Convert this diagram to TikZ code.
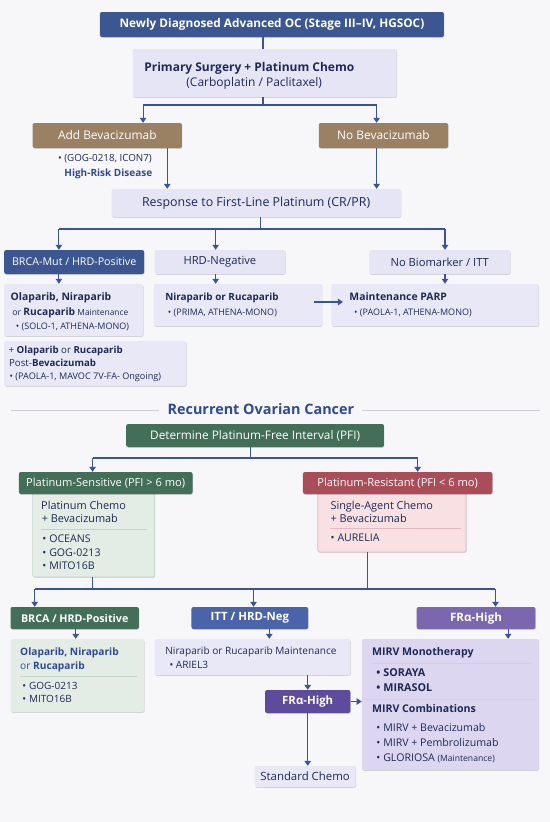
\documentclass[tikz,border=0pt]{standalone}
\usepackage{fontspec}
\setmainfont{Open Sans}
\usetikzlibrary{arrows.meta,shadows,calc}
\definecolor{bgc}{HTML}{F7F7FA}
\definecolor{navy}{HTML}{3B5690}
\definecolor{lc}{HTML}{3A5597}
\definecolor{lav}{HTML}{E5E5F6}
\definecolor{lavb}{HTML}{E9E8F7}
\definecolor{brown}{HTML}{9B8163}
\definecolor{grn}{HTML}{436E58}
\definecolor{redh}{HTML}{A94D58}
\definecolor{lgrn}{HTML}{E3EDE6}
\definecolor{lgrnb}{HTML}{C2D6C8}
\definecolor{pnk}{HTML}{F8E0E3}
\definecolor{pnkb}{HTML}{E8B7BF}
\definecolor{bitt}{HTML}{4B63A9}
\definecolor{pur}{HTML}{7A67AD}
\definecolor{purd}{HTML}{5E4B9B}
\definecolor{mirvc}{HTML}{DCD6F1}
\definecolor{tdark}{HTML}{1E2A55}
\definecolor{tblue}{HTML}{2F4A94}
\definecolor{gline}{HTML}{CFCFD8}
\newcommand{\fsz}[1]{\fontsize{#1}{#1}\selectfont}
\newcommand{\bul}{•\hspace{3pt}}
\newcommand{\bx}[7]{%
  \pgfmathsetmacro{\myBW}{(#4-#2)*1.052}\pgfmathsetmacro{\myBH}{#5-#3}%
  \pgfmathsetmacro{\myCX}{(#2+#4)/2}\pgfmathsetmacro{\myCY}{(#3+#5)/2}%
  \node[#6, minimum width=\myBW pt, minimum height=\myBH pt] (#1) at (\myCX,\myCY) {#7};}
\newcommand{\tx}[5]{\node[txt,#4] (#1) at (#2,{#3+3.7}) {#5};}
\tikzset{
  box/.style={rounded corners=2pt, inner sep=0pt, draw=none,
    drop shadow={shadow xshift=0.5pt, shadow yshift=-0.8pt, opacity=0.15, fill=black}},
  txt/.style={inner sep=0pt, anchor=base west, text=tdark},
  ln/.style={draw=lc, line width=1.1pt},
  arr/.style={ln, -{Triangle[width=6.5pt,length=5pt]}},
  sepl/.style={line width=0.6pt},
}
\begin{document}
\begin{tikzpicture}[x=1.052pt,y=-1pt]
\fill[bgc] (0,0) rectangle (522.81,822);
\useasboundingbox (0,0) rectangle (522.81,822);
% ---------- first line ----------
\bx{top}{95}{12}{422}{37}{box,fill=navy,text=white,font={\bfseries\fsz{11.8}}}{Newly Diagnosed Advanced OC (Stage III–IV, HGSOC)}
\bx{prim}{126}{49}{377}{97}{box,fill=lav}{}
\tx{tp1}{137}{68}{font={\bfseries\fsz{12}}}{Primary Surgery + Platinum Chemo}
\tx{tp2}{177}{83}{font={\fsz{12}}}{(Carboplatin / Paclitaxel)}
\bx{addbev}{31}{123}{173}{148}{box,fill=brown,text=white,font={\fsz{11.9}}}{Add Bevacizumab}
\bx{nobev}{303}{123}{426}{148}{box,fill=brown,text=white,font={\fsz{11.9}}}{No Bevacizumab}
\tx{tgog}{55}{158}{font={\fsz{9.8}}}{• (GOG-0218, ICON7)}
\tx{thr}{61}{173}{font={\bfseries\fsz{10}},text=tblue}{High-Risk Disease}
\bx{resp}{106}{189}{381}{217}{box,fill=lav,font={\fsz{12.4}},text=tdark}{Response to First-Line Platinum (CR/PR)}
\bx{brca}{4}{250}{137}{274}{box,fill=navy,text=white,font={\fsz{10.7}}}{BRCA-Mut / HRD-Positive}
\bx{hrdn}{147}{250}{271}{274}{box,fill=lav,text=tdark,font={\fsz{11.2}}}{HRD-Negative}
\bx{nobio}{351}{250}{485}{274}{box,fill=lav,text=tdark,font={\fsz{11.2}}}{No Biomarker / ITT}
\bx{olap}{4}{284}{136}{336}{box,fill=lavb}{}
\tx{to1}{10}{297}{font={\bfseries\fsz{10.4}}}{Olaparib, Niraparib}
\tx{to2}{11.5}{312}{font={\fsz{8.8}}}{or {\bfseries\fsz{10.2}Rucaparib} {\fsz{8.4}Maintenance}}
\tx{to3}{15}{326}{font={\fsz{9}}}{• (SOLO-1, ATHENA-MONO)}
\bx{nira}{146}{284}{306}{326}{box,fill=lavb}{}
\tx{tn1}{157}{297}{font={\bfseries\fsz{9.9}}}{Niraparib or Rucaparib}
\tx{tn2}{159.5}{312}{font={\fsz{9}}}{• (PRIMA, ATHENA-MONO)}
\bx{maint}{315}{284}{512}{326}{box,fill=lavb}{}
\tx{tm1}{332}{297}{font={\bfseries\fsz{10.4}}}{Maintenance PARP}
\tx{tm2}{336.5}{312}{font={\fsz{9}}}{• (PAOLA-1, ATHENA-MONO)}
\bx{olp}{4}{341}{177}{386}{box,fill=lavb}{}
\tx{tq1}{8}{350}{font={\fsz{9.7}}}{+ {\bfseries Olaparib} or {\bfseries Rucaparib}}
\tx{tq2}{8.5}{363}{font={\fsz{9.7}}}{Post-{\bfseries Bevacizumab}}
\tx{tq3}{9}{376}{font={\fsz{9.1}}}{• (PAOLA-1, MAVOC 7V-FA- Ongoing)}
% connectors first part
\coordinate (j1) at (250,105);
\coordinate (a1) at (136,105);
\coordinate (a2) at (358,105);
\draw[ln] (top.south -| j1) -- (prim.north -| j1);
\draw[ln] (prim.south -| j1) -- (j1);
\draw[ln] (a1) -- (a2);
\draw[arr] (a1) -- (a1 |- addbev.north);
\draw[arr] (a2) -- (a2 |- nobev.north);
\coordinate (c1) at (159,148);
\draw[arr] (addbev.south -| c1) -- (resp.north -| c1);
\draw[arr] (nobev.south -| a2) -- (resp.north -| a2);
\coordinate (j2) at (248,229);
\coordinate (k1) at (56,229);
\coordinate (k2) at (205,229);
\coordinate (k3) at (423,229);
\draw[ln] (resp.south -| j2) -- (j2);
\draw[ln] (k1) -- (k3);
\draw[arr] (k1) -- (k1 |- brca.north);
\draw[arr] (k2) -- (k2 |- hrdn.north);
\draw[arr] (k3) -- (k3 |- nobio.north);
\draw[arr] (brca.south -| k1) -- (olap.north -| k1);
\draw[arr] (hrdn.south -| k2) -- (nira.north -| k2);
\draw[arr] (nobio.south -| k3) -- (maint.north -| k3);
\coordinate (q1) at (298.5,302);
\coordinate (q2) at (326,302);
\draw[arr] (q1) -- (q2);
% ---------- recurrent ----------
\node[inner sep=0pt, text=tblue, font={\bfseries\fsz{14.4}}] (rtitle) at (248,409) {Recurrent Ovarian Cancer};
\coordinate (gl) at (10,410);
\coordinate (gr) at (513,410);
\draw[gline, line width=0.8pt] (gl) -- ([xshift=-8pt]rtitle.west |- gl);
\draw[gline, line width=0.8pt] ([xshift=8pt]rtitle.east |- gr) -- (gr);
\bx{pfi}{120}{424}{365}{447}{box,fill=grn,text=white,font={\fsz{11.8}}}{Determine Platinum-Free Interval (PFI)}
\bx{sb}{31}{490}{147}{577}{box,fill=lgrn,draw=lgrnb,line width=0.6pt}{}
\bx{rb}{302}{490}{443}{552}{box,fill=pnk,draw=pnkb,line width=0.6pt}{}
\bx{sh}{18}{472}{183}{494}{box,fill=grn,text=white,font={\fsz{11.1}}}{Platinum-Sensitive (PFI > 6 mo)}
\bx{rh}{288}{472}{468}{494}{box,fill=redh,text=white,font={\fsz{11.1}}}{Platinum-Resistant (PFI < 6 mo)}
\tx{ts1}{39}{506}{font={\fsz{10.9}}}{Platinum Chemo}
\tx{ts2}{39.5}{519}{font={\fsz{10.9}}}{+ Bevacizumab}
\draw[lgrnb, sepl] (39,529) -- (140,529);
\tx{ts3}{40}{539}{font={\fsz{10.6}}}{\bul OCEANS}
\tx{ts4}{40}{553}{font={\fsz{10.6}}}{\bul GOG-0213}
\tx{ts5}{40}{566}{font={\fsz{10.6}}}{\bul MITO16B}
\tx{tr1}{314}{506}{font={\fsz{10.9}}}{Single-Agent Chemo}
\tx{tr2}{314}{519}{font={\fsz{10.9}}}{+ Bevacizumab}
\draw[pnkb, sepl] (314,528) -- (438,528);
\tx{tr3}{314}{538}{font={\fsz{10.6}}}{\bul AURELIA}
% connectors recurrent
\coordinate (j3) at (238,458);
\coordinate (m1) at (88,458);
\coordinate (m2) at (397,458);
\draw[ln] (pfi.south -| j3) -- (j3);
\draw[ln] (m1) -- (m2);
\draw[arr] (m1) -- (m1 |- sh.north);
\draw[arr] (m2) -- (m2 |- rh.north);
\coordinate (h1) at (33,589);
\coordinate (h2) at (471,589);
\coordinate (h3) at (241,589);
\coordinate (s1) at (88,589);
\coordinate (s2) at (349,589);
\draw[ln] (sb.south -| s1) -- (s1);
\draw[ln] (rb.south -| s2) -- (s2);
\draw[ln] (h1) -- (h2);
\bx{brca2}{10}{607}{132}{629}{box,fill=grn,text=white,font={\bfseries\fsz{10.7}}}{BRCA / HRD-Positive}
\bx{itt}{182}{607}{293}{629}{box,fill=bitt,text=white,font={\bfseries\fsz{11.4}}}{ITT / HRD-Neg}
\bx{fr1}{396}{607}{509}{629}{box,fill=pur,text=white,font={\bfseries\fsz{11.6}}}{FRα-High}
\draw[arr] (h1) -- (h1 |- brca2.north);
\draw[arr] (h3) -- (h3 |- itt.north);
\draw[arr] (h2) -- (h2 |- fr1.north);
\bx{olap3}{10}{639}{137}{712}{box,fill=lgrn}{}
\tx{tb1}{19}{652}{font={\bfseries\fsz{10.2}},text=tblue}{Olaparib, Niraparib}
\tx{tb2}{19}{666}{font={\fsz{10.2}},text=tblue}{or {\bfseries Rucaparib}}
\draw[lgrnb, sepl] (19,676) -- (130,676);
\tx{tb3}{21}{686}{font={\fsz{10}}}{\bul GOG-0213}
\tx{tb4}{21}{699}{font={\fsz{10}}}{\bul MITO16B}
\bx{ittb}{147}{639}{333}{675}{box,fill=lavb}{}
\tx{ti1}{157}{651}{font={\fsz{10.1}}}{Niraparib or Rucaparib Maintenance}
\tx{ti2}{161}{665}{font={\fsz{10.1}}}{• ARIEL3}
\bx{fr2}{252}{690}{333}{713}{box,fill=purd,text=white,font={\bfseries\fsz{11.4}}}{FRα-High}
\bx{std}{242}{766}{338}{787}{box,fill=lavb,text=tdark,font={\fsz{11.4}}}{Standard Chemo}
\bx{mirv}{344}{639}{512}{770}{box,fill=mirvc}{}
\tx{tv1}{353.5}{652}{font={\bfseries\fsz{10.6}}}{MIRV Monotherapy}
\draw[mirvc!70!purd!60, sepl] (353,663) -- (505,663);
\tx{tv2}{357.5}{673}{font={\bfseries\fsz{10.8}}}{\bul SORAYA}
\tx{tv3}{357.5}{688}{font={\bfseries\fsz{10.8}}}{\bul MIRASOL}
\draw[mirvc!70!purd!60, sepl] (345,699) -- (510,699);
\tx{tv4}{353.5}{709}{font={\bfseries\fsz{10.6}}}{MIRV Combinations}
\tx{tv5}{357.5}{728}{font={\fsz{10.6}}}{\bul MIRV + Bevacizumab}
\tx{tv6}{357.5}{743}{font={\fsz{10.6}}}{\bul MIRV + Pembrolizumab}
\tx{tv7}{357.5}{758}{font={\fsz{10.6}}}{\bul GLORIOSA {\fsz{8.6}(Maintenance)}}
\coordinate (n1) at (72,629);
\coordinate (n2) at (256,629);
\coordinate (n3) at (483,629);
\draw[arr] (brca2.south -| n1) -- (olap3.north -| n1);
\draw[arr] (itt.south -| n2) -- (ittb.north -| n2);
\draw[arr] (fr1.south -| n3) -- (mirv.north -| n3);
\draw[arr] (ittb.south -| fr2.north) -- (fr2.north);
\draw[arr] (fr2.east) -- (fr2.east -| mirv.west);
\draw[arr] (fr2.south) -- (fr2.south |- std.north);
\end{tikzpicture}
\end{document}
